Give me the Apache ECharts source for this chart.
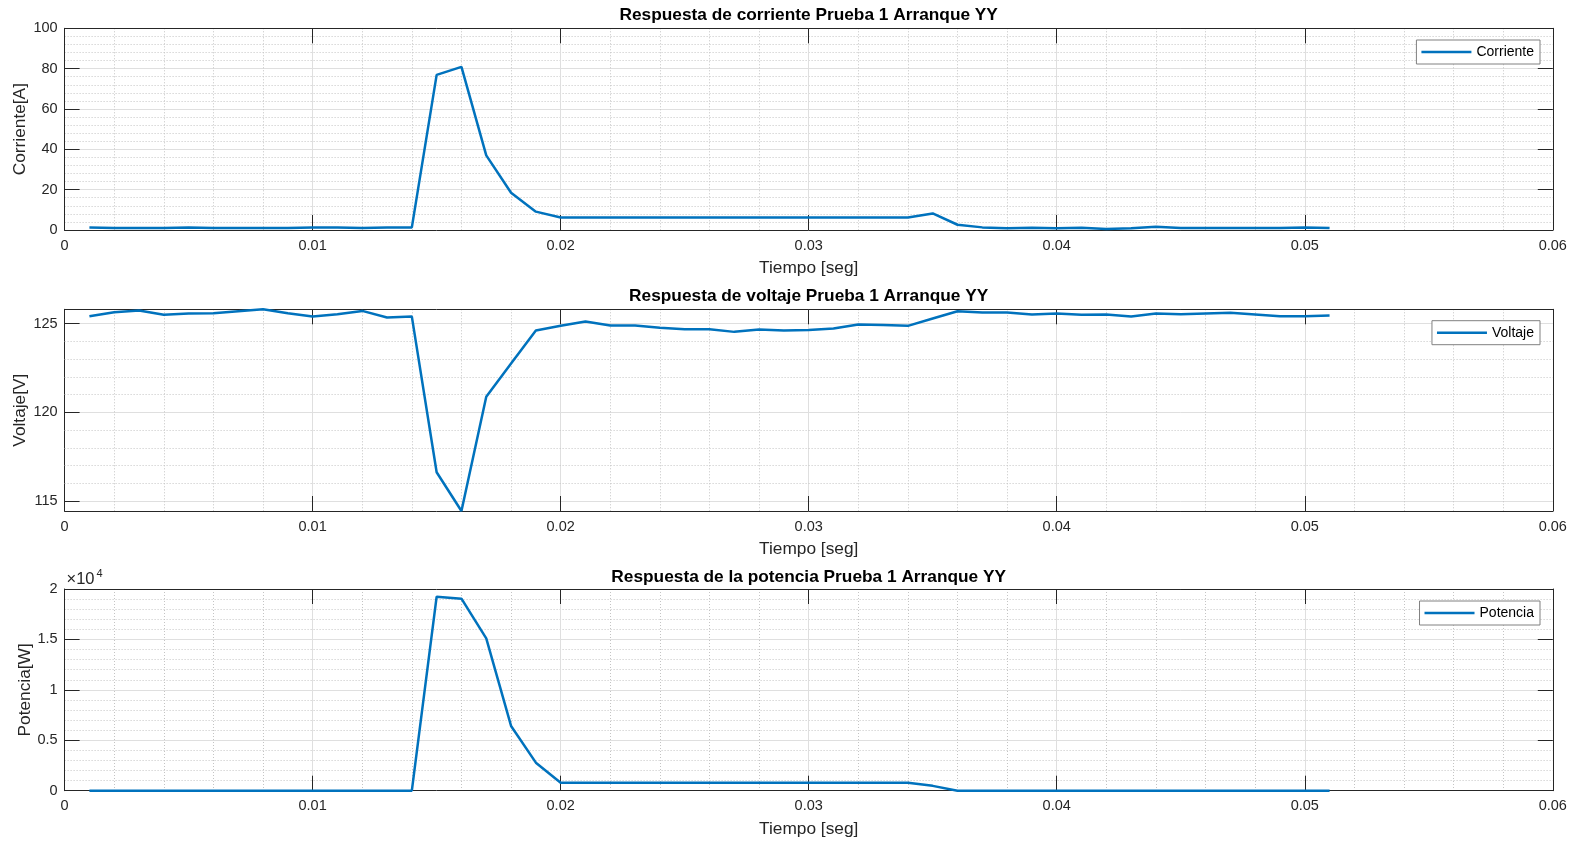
<!DOCTYPE html>
<html><head><meta charset="utf-8">
<script src="https://cdn.jsdelivr.net/npm/echarts@6/dist/echarts.min.js"></script>
<style>html,body{margin:0;padding:0;background:#fff}#c{width:1581px;height:842px}</style>
</head><body><div id="c"></div>
<script>
// ---- data ----
const time = [0.001,0.002,0.003,0.004,0.005,0.006,0.007,0.008,0.009,0.010,
  0.011,0.012,0.013,0.014,0.015,0.016,0.017,0.018,0.019,0.020,
  0.021,0.022,0.023,0.024,0.025,0.026,0.027,0.028,0.029,0.030,
  0.031,0.032,0.033,0.034,0.035,0.036,0.037,0.038,0.039,0.040,
  0.041,0.042,0.043,0.044,0.045,0.046,0.047,0.048,0.049,0.050,0.051];
const corriente = [1.2,1.0,1.0,1.0,1.2,1.0,1.0,1.0,1.0,1.3,
  1.3,1.0,1.3,1.3,76.9,80.9,37.0,18.5,9.1,6.2,
  6.2,6.2,6.2,6.2,6.2,6.2,6.2,6.2,6.2,6.2,
  6.2,6.2,6.2,6.2,8.2,2.6,1.3,0.9,1.1,0.9,
  1.1,0.5,0.9,1.6,1.0,1.0,1.0,1.0,1.0,1.3,1.0];
const voltaje = [125.41,125.64,125.73,125.49,125.56,125.58,125.69,125.80,125.58,125.39,
  125.52,125.71,125.34,125.39,116.63,114.45,120.88,122.75,124.61,124.87,
  125.11,124.89,124.89,124.76,124.68,124.68,124.53,124.66,124.61,124.63,
  124.72,124.94,124.91,124.87,125.28,125.69,125.62,125.62,125.51,125.56,
  125.49,125.51,125.39,125.56,125.52,125.56,125.60,125.51,125.41,125.41,125.45];
const potencia = [0,0,0,0,0,0,0,0,0,0,
  0,0,0,0,19240,19040,15100,6420,2780,790,
  790,790,790,790,790,790,790,790,790,790,
  790,790,790,790,480,0,0,0,0,0,
  0,0,0,0,0,0,0,0,0,0,0];
const titles = ['Respuesta de corriente Prueba 1 Arranque YY','Respuesta de voltaje Prueba 1 Arranque YY','Respuesta de la potencia Prueba 1 Arranque YY'];
const seriesNames = ['Corriente','Voltaje','Potencia'];
const yNames = ['Corriente[A]','Voltaje[V]','Potencia[W]'];
const xName = 'Tiempo [seg]';
const voltMinorGrid = [116,117,118,119,121,122,123,124];

// ---- style ----
const FONT = '"Liberation Sans", Arial, Helvetica, sans-serif';
const AX = '#262626';
const BLUE = '#0072bd';
const MAJ = '#dfdfdf';
const MIN = '#c4c4c4';
const L = 64.6, W = 1488.2, H = 201.7;
const tops = [28.3, 309.3, 589];
const legendTops = [40, 320.7, 601];
const yNameGaps = [36, 36, 31];

const grids = tops.map(t => ({left: L, top: t, width: W, height: H, containLabel: false, outerBoundsMode: 'none'}));
const xAxes = [], yAxes = [];
const yCfg = [
  {min: 0, max: 100, interval: 20, minor: true, fmt: v => String(v)},
  {min: 'dataMin', max: 'dataMax', splitNumber: 2, minor: false, fmt: v => String(v)},
  {min: 0, max: 20000, interval: 5000, minor: true, fmt: v => String(v / 10000)}
];
for (let i = 0; i < 3; i++) {
  const base = {gridIndex: i, type: 'value', min: 0, max: 0.06, interval: 0.01,
    axisLine: {show: true, onZero: false, lineStyle: {color: AX, width: 1}},
    axisTick: {show: true, inside: true, length: 15, lineStyle: {color: AX, width: 1}}};
  xAxes.push(Object.assign({}, base, {position: 'bottom',
    axisLabel: {show: true, margin: 8, color: AX, fontSize: 14.5, fontFamily: FONT,
      formatter: v => String(+(+v).toFixed(3))},
    splitLine: {show: true, lineStyle: {color: MAJ, width: 1}},
    minorTick: {show: false, splitNumber: 5},
    minorSplitLine: {show: true, lineStyle: {color: MIN, width: 1, type: [1, 2]}},
    name: xName, nameLocation: 'middle', nameGap: 30, nameMoveOverlap: false,
    nameTextStyle: {color: AX, fontSize: 17.3, fontFamily: FONT}}));
  xAxes.push(Object.assign({}, base, {position: 'top', axisLabel: {show: false},
    splitLine: {show: false}}));
  const c = yCfg[i];
  const yb = {gridIndex: i, type: 'value', min: c.min, max: c.max,
    axisLine: {show: true, onZero: false, lineStyle: {color: AX, width: 1}},
    axisTick: {show: true, inside: true, length: 15, lineStyle: {color: AX, width: 1}}};
  if (c.interval) yb.interval = c.interval; else yb.splitNumber = c.splitNumber;
  yAxes.push(Object.assign({}, yb, {position: 'left',
    axisLabel: {show: true, margin: 7, color: AX, fontSize: 14.5, fontFamily: FONT,
      formatter: c.fmt, showMinLabel: c.minor ? true : false, showMaxLabel: c.minor ? true : false},
    splitLine: {show: true, lineStyle: {color: MAJ, width: 1}},
    minorTick: {show: false, splitNumber: 5},
    minorSplitLine: {show: c.minor, lineStyle: {color: MIN, width: 1, type: [1, 2]}},
    name: yNames[i], nameLocation: 'middle', nameGap: yNameGaps[i], nameRotate: 90, nameMoveOverlap: false,
    nameTextStyle: {color: AX, fontSize: 17.3, fontFamily: FONT}}));
  yAxes.push(Object.assign({}, yb, {position: 'right', axisLabel: {show: false},
    splitLine: {show: false}}));
}

const values = [corriente, voltaje, potencia];
const series = values.map((arr, i) => ({
  type: 'line', name: seriesNames[i], xAxisIndex: 2 * i, yAxisIndex: 2 * i,
  data: time.map((t, k) => [t, arr[k]]), symbol: 'none', showSymbol: false,
  lineStyle: {color: BLUE, width: 2.5}, itemStyle: {color: BLUE},
  clip: false, animation: false, z: 3
}));
series.push({type: 'line', name: '_vminor', xAxisIndex: 2, yAxisIndex: 2, data: [],
  silent: true, z: 1, animation: false,
  markLine: {silent: true, z: 1, symbol: 'none', animation: false, label: {show: false},
    lineStyle: {color: MIN, width: 1, type: [1, 2]},
    emphasis: {disabled: true},
    data: voltMinorGrid.map(v => ({yAxis: v}))}});

const legends = seriesNames.map((n, i) => ({
  data: [{name: n, icon: 'rect'}], right: 41, top: legendTops[i], orient: 'horizontal',
  itemWidth: 50, itemHeight: 2.5, itemGap: 0, padding: [5, 6, 5, 5],
  itemStyle: {color: BLUE, borderWidth: 0},
  borderColor: '#808080', borderWidth: 1, backgroundColor: '#fff',
  textStyle: {fontSize: 14, color: '#000', fontFamily: FONT, lineHeight: 14}, selectedMode: false
}));

const titleCenters = [15, 296.6, 577.2];
const title = titles.map((t, i) => ({
  text: t, left: L + W / 2, top: titleCenters[i], textAlign: 'center', textVerticalAlign: 'middle',
  padding: 0, textStyle: {fontSize: 17.3, fontWeight: 'bold', color: '#000', fontFamily: FONT}
}));

const chart = echarts.init(document.getElementById('c'), null, {renderer: 'canvas'});
chart.setOption({
  backgroundColor: '#fff',
  animation: false,
  title, legend: legends, grid: grids, xAxis: xAxes, yAxis: yAxes, series,
  graphic: [
    {type: 'text', x: 66.5, y: 579.5, style: {text: '×10', font: '16.5px ' + FONT, fill: AX, verticalAlign: 'middle', align: 'left'}},
    {type: 'text', x: 96.5, y: 574, style: {text: '4', font: '11px ' + FONT, fill: AX, verticalAlign: 'middle', align: 'left'}}
  ]
});
</script></body></html>
